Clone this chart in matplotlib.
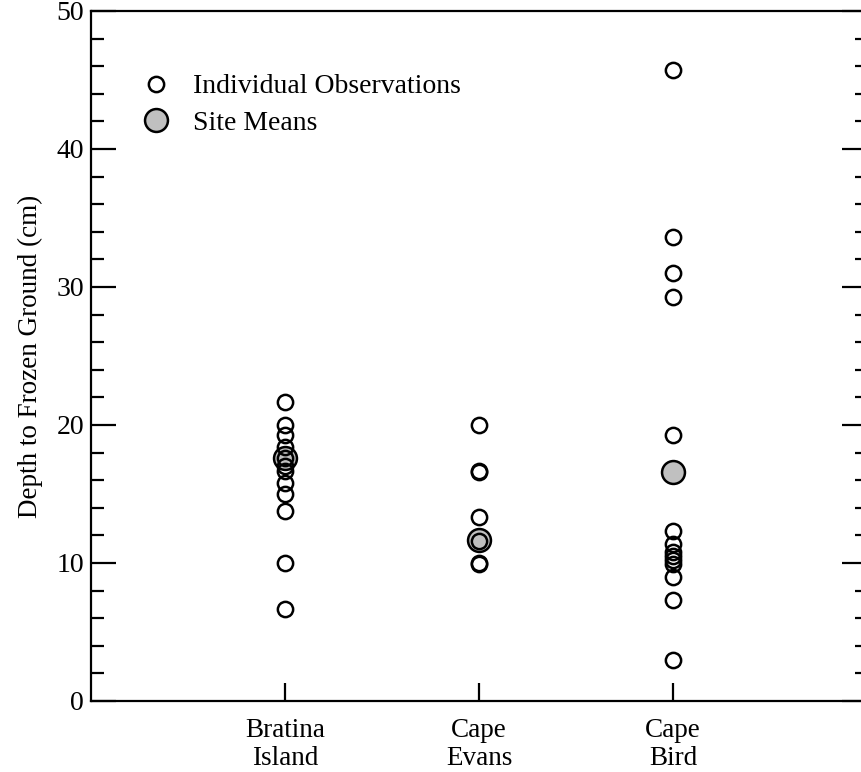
import matplotlib
matplotlib.use('Agg')
import matplotlib.pyplot as plt
from matplotlib.lines import Line2D
from matplotlib.ticker import MultipleLocator

plt.rcParams['font.family'] = ['Liberation Serif', 'DejaVu Serif']

sites = ['Bratina\nIsland', 'Cape\nEvans', 'Cape\nBird']
site_x = [1, 2, 3]

bratina = [21.7, 20.0, 19.3, 18.4, 17.6, 17.0, 16.7, 15.8, 15.0, 13.8, 10.0, 6.7]
evans = [20.0, 16.7, 16.6, 13.3, 11.6, 10.0, 9.9]
bird = [45.7, 33.6, 31.0, 29.3, 19.3, 12.3, 11.4, 10.8, 10.5, 10.2, 9.9, 9.0, 7.3, 3.0]
site_means = [17.6, 11.7, 16.6]

obs = [bratina, evans, bird]

fig = plt.figure(figsize=(8.62, 7.72), dpi=100)
# right spine falls just outside the picture in the original
ax = fig.add_axes([91 / 862, 71 / 772, 776 / 862, 690 / 772])

for x, vals in zip(site_x, obs):
    ax.plot([x] * len(vals), vals, 'o', ms=11, mfc='none', mec='black',
            mew=1.8, zorder=3)
ax.plot(site_x, site_means, 'o', ms=16.5, mfc='#c0c0c0', mec='black',
        mew=1.8, zorder=2)

ax.set_xlim(0, 4)
ax.set_ylim(0, 50)
ax.set_xticks(site_x)
ax.set_xticklabels(sites, fontsize=19.5, linespacing=1.15)
ax.yaxis.set_major_locator(MultipleLocator(10))
ax.yaxis.set_minor_locator(MultipleLocator(2))
ax.tick_params(axis='y', which='major', direction='in', length=18, width=1.6,
               labelsize=20, right=True, pad=5)
ax.tick_params(axis='y', which='minor', direction='in', length=9, width=1.6,
               right=True)
ax.tick_params(axis='x', which='major', direction='in', length=13, width=1.6,
               pad=12)
for s in ax.spines.values():
    s.set_linewidth(1.6)

ax.set_ylabel('Depth to Frozen Ground (cm)', fontsize=19.5, labelpad=10)

handles = [
    Line2D([], [], ls='none', marker='o', ms=11, mfc='none', mec='black', mew=1.8),
    Line2D([], [], ls='none', marker='o', ms=16.5, mfc='#c0c0c0', mec='black', mew=1.8),
]
ax.legend(handles, ['Individual Observations', 'Site Means'], loc='upper left',
          bbox_to_anchor=(0.03, 0.945), frameon=False, fontsize=20,
          handletextpad=0.75, labelspacing=0.4, handlelength=1.2)

fig.savefig('out.png', dpi=100)
